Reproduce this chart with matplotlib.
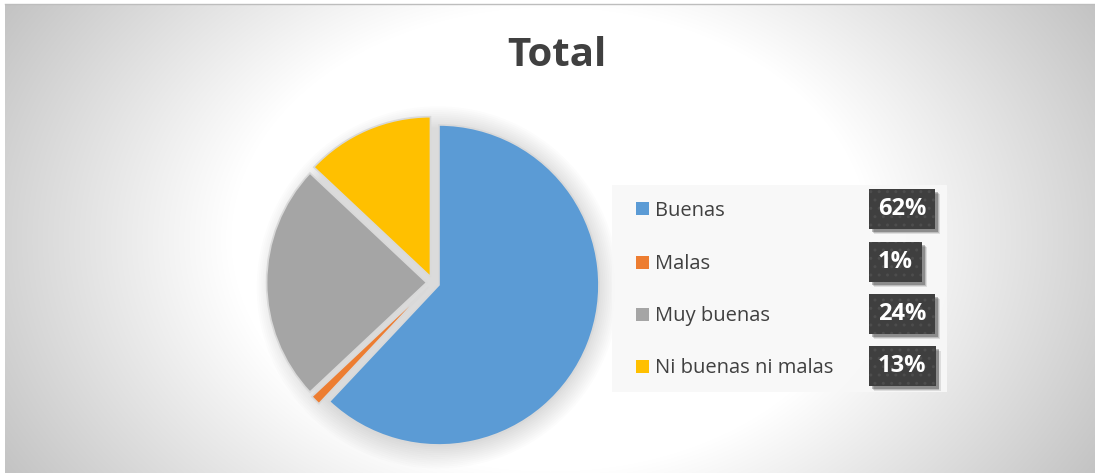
import numpy as np
import matplotlib
matplotlib.use("Agg")
import matplotlib.pyplot as plt
from matplotlib.patches import Rectangle, Circle

labels = ["Buenas", "Malas", "Muy buenas", "Ni buenas ni malas"]
values = [62, 1, 24, 13]
colors = ["#5B9BD5", "#ED7D31", "#A5A5A5", "#FFC000"]
title = "Total"

W, H = 1095, 475
plt.rcParams['font.family'] = ['Open Sans', 'DejaVu Sans']

fig = plt.figure(figsize=(W / 100, H / 100), dpi=100)
fig.patch.set_facecolor("white")

# radial gradient background
bg = fig.add_axes([5 / W, 2 / H, 1090 / W, 469 / H])
yy, xx = np.mgrid[0:469, 0:1090]
d = np.sqrt(((xx - 545) / 550.0) ** 2 + ((yy - 235) / 400.0) ** 2)
g = 255 - 105 * np.clip(d - 0.58, 0, None)
g = np.clip(g, 0, 255) / 255.0
bg.imshow(np.dstack([g, g, g]), aspect="auto", interpolation="bilinear")
bg.set_axis_off()
fig.add_artist(plt.Line2D([5 / W, 1], [1 - 4 / H, 1 - 4 / H], color="#bdbdbd", lw=1))

# pie
cx, cy, r = 433, 282.6, 160
half = 200
ax = fig.add_axes([(cx - half) / W, (H - cy - half) / H, 2 * half / W, 2 * half / H])
ax.set_axis_off()
for i in range(12):
    ax.add_patch(Circle((0.03, -0.03), 1.0 + 0.012 * i, color="black", alpha=0.013, lw=0, zorder=0))
ax.pie(values, colors=colors, startangle=90, counterclock=False,
       explode=[0.04] * len(values), radius=1,
       wedgeprops=dict(edgecolor="#d9d9d9", linewidth=1.2))
ax.set_xlim(-1.25, 1.25)
ax.set_ylim(-1.25, 1.25)

fig.text(557 / W, 1 - 55 / H, title, ha="center", va="center",
         fontsize=29, fontweight="bold", color="#404040")

# legend panel
fig.add_artist(Rectangle((612 / W, 83 / H), 335 / W, 207 / H,
                         transform=fig.transFigure, facecolor="#f8f8f8",
                         edgecolor="none", alpha=0.9))

renderer = fig.canvas.get_renderer()
rows = [209, 262, 314, 366]
for lab, val, col, ry in zip(labels, values, colors, rows):
    yf = 1 - ry / H
    fig.add_artist(Rectangle((636 / W, yf - 6.5 / H), 13 / W, 13 / H,
                             transform=fig.transFigure, facecolor=col, edgecolor="none"))
    fig.text(655 / W, yf - 2 / H, lab, ha="left", va="center", fontsize=14.5, color="#404040")
    t = fig.text(878 / W, yf, f"{val}%", ha="left", va="center",
                 fontsize=17, fontweight="bold", color="white", zorder=5)
    bb = t.get_window_extent(renderer)
    x0 = bb.x0 - 9
    w = bb.width + 18
    y0 = (H - ry) - 20
    for k, a in [(5, 0.10), (4, 0.15), (3, 0.25)]:
        fig.add_artist(Rectangle(((x0 + k) / W, (y0 - k) / H), w / W, 40 / H,
                                 transform=fig.transFigure, facecolor="black",
                                 edgecolor="none", alpha=a, zorder=3))
    fig.add_artist(Rectangle((x0 / W, y0 / H), w / W, 40 / H,
                             transform=fig.transFigure, facecolor="#3f3f3f",
                             edgecolor="#4d4d4d", hatch="..", linewidth=0, zorder=4))

fig.savefig("out.png", dpi=100)
